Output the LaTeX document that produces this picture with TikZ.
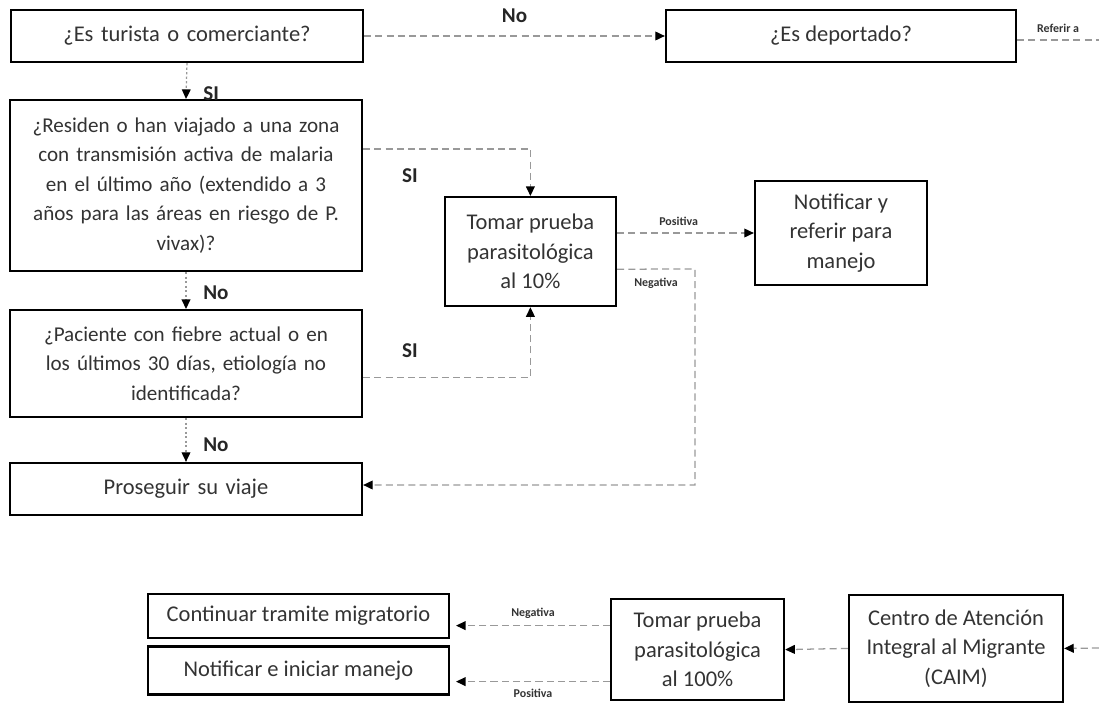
\documentclass[tikz,border=0pt]{standalone}
\usepackage{fontspec}
\setmainfont{Carlito}
\usepackage{tikz}
\usetikzlibrary{positioning, arrows.meta, calc}
\definecolor{txtgray}{HTML}{333333}
\definecolor{linegray}{HTML}{999999}
\tikzset{box/.style={draw, line width=1.6pt, align=center, text=txtgray, font=\fontsize{16}{21}\selectfont, inner sep=0pt},
decide/.style={box, minimum width=8.8cm, text width=8.6cm},
question/.style={decide, font=\fontsize{15}{21}\selectfont},
flow/.style={draw=linegray, line width=0.9pt, dash pattern=on 5pt off 3pt, -{Triangle[length=2.4mm, width=2.2mm, color=black]}},
flowdot/.style={flow, dash pattern=on 1.6pt off 1.6pt},
answer/.style={font=\fontsize{15}{17}\selectfont\bfseries, text=black!85},
result/.style={font=\fontsize{8.5}{10}\selectfont\bfseries, text=black!80}}

\begin{document}
\begin{tikzpicture}
  \useasboundingbox (0,0) rectangle (27.475,-17.75);
  % Tamizaje
  \node[decide, minimum height=1.3cm] (turista) at (4.675,-0.9) {¿Es turista o comerciante?};
  \node[box, minimum width=8.75cm, minimum height=1.3cm] (deportado) at (21.025,-0.9) {¿Es deportado?};
  \node[question, minimum height=4.275cm] (zona) at (4.65,-4.64)
    {¿Residen o han viajado a una zona\\ con transmisión activa de malaria\\ en el último año (extendido a 3\\ años para las áreas en riesgo de P.\\ vivax)?};
  \node[question, minimum height=2.675cm] (fiebre) at (4.65,-9.09)
    {¿Paciente con fiebre actual o en\\ los últimos 30 días, etiología no\\ identificada?};
  \node[decide, minimum height=1.3cm] (viaje) at (4.65,-12.225) {Proseguir su viaje};
  % Prueba al 10%
  \node[box, minimum width=4.275cm, minimum height=2.725cm] (prueba10) at (13.26,-6.29)
    {Tomar prueba\\ parasitológica\\ al 10\%};
  \node[box, minimum width=4.3cm, minimum height=2.6cm] (referir) at (21.025,-5.825)
    {Notificar y\\ referir para\\ manejo};
  % CAIM
  \node[box, minimum width=5.35cm, minimum height=2.675cm] (caim) at (23.9,-16.21)
    {Centro de Atención\\ Integral al Migrante\\ (CAIM)};
  \node[box, minimum width=4.325cm, minimum height=2.525cm] (prueba100) at (17.44,-16.24)
    {Tomar prueba\\ parasitológica\\ al 100\%};
  \node[box, minimum width=7.525cm, minimum height=1.1cm] (tramite) at (7.46,-15.4) {Continuar tramite migratorio};
  \node[box, minimum width=7.525cm, minimum height=1.2cm] (manejo) at (7.46,-16.76) {Notificar e iniciar manejo};
  \coordinate (bordeA) at (27.475,-1.0);
  \coordinate (bordeB) at (27.475,-16.2);
  \coordinate (negturn) at (17.375,-6.725);

  \draw[flow] (turista) -- node[answer, above=0.2cm]{No} (deportado);
  \draw[draw=linegray, line width=0.9pt, dash pattern=on 5pt off 3pt] ([yshift=-0.1cm]deportado.east) -- node[result, above=0.05cm]{Referir a} ([yshift=-0.1cm]deportado.east -| bordeA);
  \draw[flowdot] (turista.south) -- node[answer, right=0.3cm, pos=0.85]{SI} (zona.north);
  \draw[flow] ([yshift=-1.25cm]zona.north east) -| node[answer, pos=0.14, below=0.35cm]{SI} (prueba10.north);
  \draw[flowdot] (zona.south) -- node[answer, right=0.3cm, pos=0.55]{No} (fiebre.north);
  \draw[flow] ([yshift=-0.34cm]fiebre.east) -| node[answer, pos=0.14, above=0.35cm]{SI} (prueba10.south);
  \draw[flowdot] (fiebre.south) -- node[answer, right=0.3cm, pos=0.6]{No} (viaje.north);
  \draw[flow] (prueba10.east |- referir.west) -- node[result, above=0.05cm, pos=0.45]{Positiva} (referir.west);
  \draw[flow] ([yshift=-0.44cm]prueba10.east) -- node[result, below=0.1cm, pos=0.5]{Negativa} (negturn) |- ([yshift=0.1cm]viaje.east);
  \draw[flow] (bordeB) -- (caim.east);
  \draw[flow] (caim.west) -- (prueba100.west -| prueba100.east);
  \draw[flow] ([yshift=0.6cm]prueba100.west) -- node[result, above=0.05cm]{Negativa} ([xshift=0.15cm, yshift=0.6cm]prueba100.west -| tramite.east);
  \draw[flow] ([yshift=-0.8cm]prueba100.west) -- node[result, below=0.05cm]{Positiva} ([xshift=0.15cm, yshift=-0.8cm]prueba100.west -| manejo.east);
\end{tikzpicture}
\end{document}
